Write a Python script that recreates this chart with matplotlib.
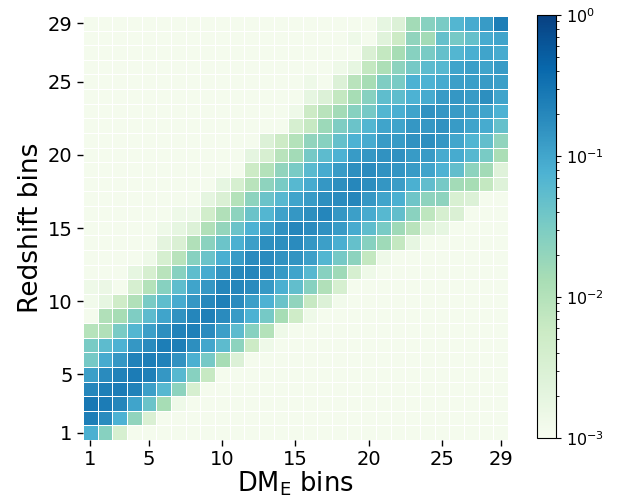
import matplotlib.pyplot as plt
import numpy as np
from matplotlib.colors import LogNorm

E = -2.95  # empty cells, sitting at the colour floor

tick_bins = [1, 5, 10, 15, 20, 25, 29]

# log10 of the value in each cell; one row per redshift bin, bin 1 first,
# columns are DM_E bins 1..29
log_frac = [
    [-1.1, -1.6, -2.43, E, E, E, E, E, E, E, E, E, E, E, E, E, E, E, E, E, E, E, E, E, E, E, E, E, E],
    [-0.6, -0.74, -1.125, -1.68, -2.5, E, E, E, E, E, E, E, E, E, E, E, E, E, E, E, E, E, E, E, E, E, E, E, E],
    [-0.54, -0.59, -0.68, -0.98, -1.37, -1.875, -2.85, E, E, E, E, E, E, E, E, E, E, E, E, E, E, E, E, E, E, E, E, E, E],
    [-0.68, -0.62, -0.59, -0.65, -0.93, -1.2, -1.65, -2.43, E, E, E, E, E, E, E, E, E, E, E, E, E, E, E, E, E, E, E, E, E],
    [-0.93, -0.75, -0.65, -0.59, -0.63, -0.86, -1.2, -1.6, -2.2, E, E, E, E, E, E, E, E, E, E, E, E, E, E, E, E, E, E, E, E],
    [-1.46, -1.05, -0.86, -0.65, -0.6, -0.65, -0.81, -1.1, -1.46, -1.875, -2.55, E, E, E, E, E, E, E, E, E, E, E, E, E, E, E, E, E, E],
    [-1.48, -1.25, -1.125, -0.86, -0.74, -0.6, -0.62, -0.78, -1.0, -1.25, -1.65, -2.27, -2.85, E, E, E, E, E, E, E, E, E, E, E, E, E, E, E, E],
    [-2.02, -1.96, -1.48, -1.17, -0.93, -0.78, -0.65, -0.63, -0.74, -0.93, -1.25, -1.6, -2.0, -2.85, E, E, E, E, E, E, E, E, E, E, E, E, E, E, E],
    [E, -1.96, -1.875, -1.53, -1.25, -0.98, -0.82, -0.68, -0.63, -0.74, -0.9, -1.125, -1.46, -1.875, -2.3, -2.85, E, E, E, E, E, E, E, E, E, E, E, E, E],
    [-2.9, -2.73, -2.3, -1.96, -1.48, -1.27, -1.05, -0.86, -0.71, -0.63, -0.75, -0.93, -1.125, -1.37, -1.68, -2.2, -2.55, -2.9, E, E, E, E, E, E, E, E, E, E, E],
    [-2.85, -2.8, E, -2.43, -2.0, -1.6, -1.27, -0.98, -0.86, -0.69, -0.68, -0.75, -0.87, -1.1, -1.3, -1.6, -1.96, -2.43, E, E, E, E, E, E, E, E, E, E, E],
    [E, E, E, -2.73, -2.43, -2.04, -1.6, -1.27, -1.05, -0.85, -0.7, -0.68, -0.75, -0.88, -0.98, -1.2, -1.6, -1.8, -2.43, -2.85, E, E, E, E, E, E, E, E, E],
    [E, E, E, E, -2.85, -2.43, -2.04, -1.6, -1.37, -1.08, -0.9, -0.74, -0.74, -0.81, -0.83, -0.93, -1.17, -1.46, -1.65, -2.16, -2.85, E, E, E, E, E, E, E, E],
    [E, E, E, E, E, -2.68, -2.5, -1.96, -1.62, -1.38, -1.1, -0.93, -0.78, -0.78, -0.75, -0.86, -0.93, -1.08, -1.32, -1.6, -1.8, -2.16, -2.73, E, E, E, E, E, E],
    [E, E, E, E, E, -2.85, -2.73, -2.55, -1.96, -1.7, -1.37, -1.125, -0.95, -0.8, -0.68, -0.74, -0.8, -0.9, -1.05, -1.27, -1.48, -1.8, -2.05, -2.62, -2.73, E, E, E, E],
    [E, E, E, E, E, E, -2.85, -2.85, -2.35, -1.96, -1.65, -1.37, -1.17, -0.97, -0.86, -0.78, -0.68, -0.86, -0.93, -1.05, -1.2, -1.3, -1.62, -2.1, -2.43, -2.5, E, E, E],
    [E, E, E, E, E, E, E, E, -2.7, -2.5, -2.0, -1.65, -1.37, -1.2, -0.98, -0.9, -0.78, -0.74, -0.68, -0.86, -0.98, -1.1, -1.4, -1.66, -1.65, -2.47, -2.55, E, E],
    [E, E, E, E, E, E, E, E, E, -2.73, -2.43, -2.04, -1.66, -1.48, -1.2, -1.05, -0.86, -0.78, -0.7, -0.77, -0.85, -0.92, -1.1, -1.28, -1.46, -1.83, -1.87, -2.16, -2.58],
    [E, E, E, E, E, E, E, E, E, E, E, -2.27, -2.0, -1.68, -1.48, -1.22, -1.05, -0.9, -0.78, -0.75, -0.81, -0.84, -0.9, -0.98, -1.125, -1.3, -1.65, -1.83, -2.6],
    [E, E, E, E, E, E, E, E, E, E, E, -2.7, -2.45, -2.04, -1.83, -1.46, -1.25, -1.125, -0.9, -0.86, -0.81, -0.8, -0.9, -0.9, -1.05, -1.05, -1.2, -1.48, -1.9],
    [E, E, E, E, E, E, E, E, E, E, E, E, -2.55, -2.27, -2.0, -1.68, -1.6, -1.32, -1.125, -1.05, -0.9, -0.9, -0.81, -0.78, -0.86, -1.0, -1.15, -1.3, -1.68],
    [E, E, E, E, E, E, E, E, E, E, E, E, E, E, -2.43, -2.2, -1.78, -1.53, -1.37, -1.17, -0.98, -0.98, -0.86, -0.86, -0.81, -0.9, -0.98, -1.05, -1.32],
    [E, E, E, E, E, E, E, E, E, E, E, E, E, E, -2.85, -2.27, -2.04, -1.83, -1.6, -1.46, -1.17, -1.08, -0.98, -0.81, -0.86, -0.9, -0.93, -0.98, -1.125],
    [E, E, E, E, E, E, E, E, E, E, E, E, E, E, E, -2.73, -2.55, -2.16, -1.875, -1.6, -1.27, -1.27, -1.125, -1.05, -0.9, -0.86, -0.9, -0.78, -0.98],
    [E, E, E, E, E, E, E, E, E, E, E, E, E, E, E, -2.85, E, -2.55, -2.04, -1.875, -1.53, -1.48, -1.125, -1.125, -1.05, -0.93, -0.93, -0.9, -0.93],
    [E, E, E, E, E, E, E, E, E, E, E, E, E, E, E, E, E, -2.85, -2.73, -2.16, -1.93, -1.65, -1.46, -1.25, -1.2, -0.98, -0.93, -0.98, -0.9],
    [E, E, E, E, E, E, E, E, E, E, E, E, E, E, E, E, E, E, E, -2.5, -2.16, -1.875, -1.6, -1.48, -1.32, -1.17, -1.08, -0.98, -1.05],
    [E, E, E, E, E, E, E, E, E, E, E, E, E, E, E, E, E, E, -2.85, E, -2.62, -2.27, -1.68, -1.83, -1.32, -1.46, -1.32, -1.05, -0.98],
    [E, E, E, E, E, E, E, E, E, E, E, E, E, E, E, E, E, E, E, E, -2.73, -2.55, -1.83, -1.6, -1.48, -1.17, -1.05, -0.9, -0.6],
]

frac = 10.0 ** np.array(log_frac)
n_z, n_dm = frac.shape

fig = plt.figure(figsize=(6.22, 5.0), dpi=100)
ax = fig.add_axes([83 / 622, 60 / 500, 425 / 622, 424 / 500])

x_edges = np.arange(n_dm + 1) + 0.5
y_edges = np.arange(n_z + 1) + 0.5
mesh = ax.pcolormesh(x_edges, y_edges, frac, cmap='GnBu', norm=LogNorm(vmin=1e-3, vmax=1),
                     edgecolors='white', linewidth=0.6)

ax.set_xlim(0.5, n_dm + 0.5)
ax.set_ylim(0.5, n_z + 0.5)
for spine in ax.spines.values():
    spine.set_visible(False)

ax.set_xticks(tick_bins)
ax.set_yticks(tick_bins)
ax.tick_params(labelsize=14, length=4, width=1)
ax.set_xlabel(r'DM$_\mathrm{E}$ bins', fontsize=18.5, labelpad=0)
ax.set_ylabel('Redshift bins', fontsize=19, labelpad=3)

cax = fig.add_axes([537 / 622, 62 / 500, 19 / 622, 423 / 500])
cb = fig.colorbar(mesh, cax=cax)
cb.ax.tick_params(labelsize=11.5)

fig.savefig('out.png', dpi=100)
